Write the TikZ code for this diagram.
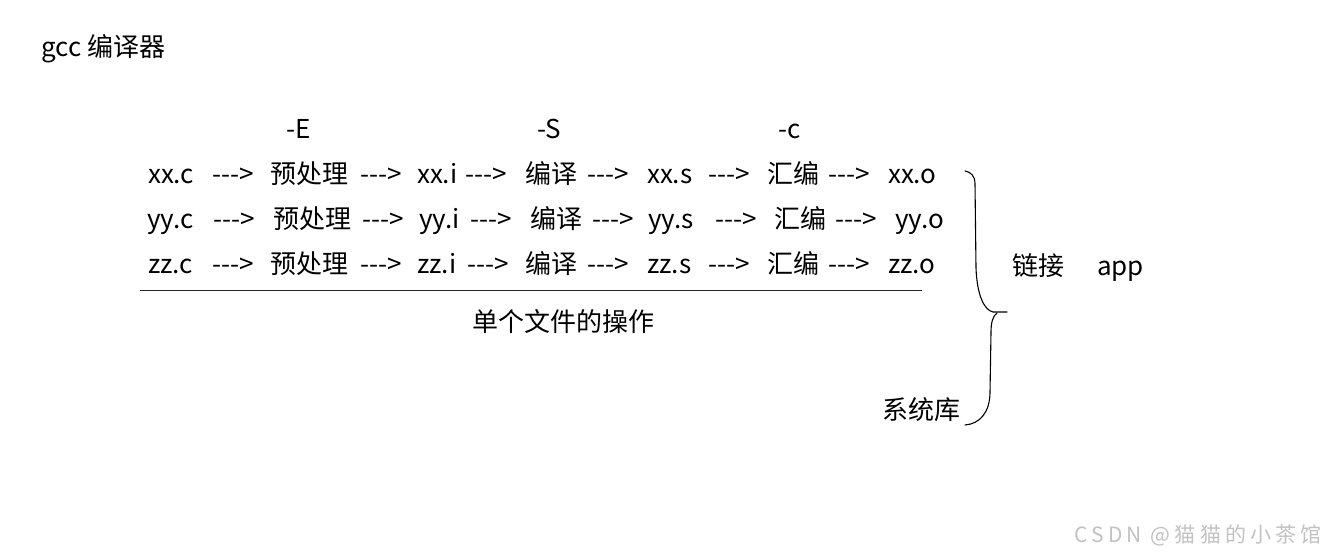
\documentclass[tikz,border=0pt]{standalone}
\usepackage{fontspec}
\newfontfamily\yh{Noto Sans CJK SC}
\newfontfamily\yhwide[LetterSpace=20]{Noto Sans CJK SC}
\tikzset{
  t/.style={inner sep=0pt,anchor=base west,font=\yh\fontsize{26}{30}\selectfont,text=black},
  brace/.style={draw=black,line width=1.1pt,line cap=round,line join=round},
  wm/.style={inner sep=0pt,anchor=base east,font=\yhwide\fontsize{21}{24}\selectfont,text=black!24}
}
\begin{document}
\begin{tikzpicture}[x=1pt,y=-1pt]
\useasboundingbox (0,0) rectangle (1327,556);
\fill[white] (0,0) rectangle (1327,556);
\node[t] (title) at (41,57) {gcc 编译器};
\node[t] (optE) at (286,139) {-E};
\node[t] (optS) at (537,139) {-S};
\node[t] (optc) at (778,139) {-c};
\foreach \x/\s [count=\i] in {148/xx.c,212/{--->},270/预处理,360/{--->},417/xx.i,465/{--->},525/编译,587/{--->},647/xx.s,708/{--->},767/汇编,828/{--->},888/xx.o}
  \node[t] (ra\i) at (\x,183) {\s};
\foreach \x/\s [count=\i] in {147/yy.c,213/{--->},273/预处理,362/{--->},419/yy.i,470/{--->},530/编译,592/{--->},648/yy.s,715/{--->},774/汇编,835/{--->},895/yy.o}
  \node[t] (rb\i) at (\x,228) {\s};
\foreach \x/\s [count=\i] in {148/zz.c,212/{--->},270/预处理,360/{--->},417/zz.i,467/{--->},525/编译,587/{--->},647/zz.s,708/{--->},767/汇编,828/{--->},888/zz.o}
  \node[t] (rc\i) at (\x,273) {\s};
\coordinate (ls) at (140,290);
\coordinate (le) at (922,290);
\draw[black!85,line width=1pt] (ls) -- (le);
\node[t] (single) at (472,331) {单个文件的操作};
\coordinate (b1) at (965,171);
\coordinate (b2) at (975,184);
\coordinate (b3) at (976,268);
\coordinate (b4) at (993,312);
\coordinate (b5) at (1007,312);
\draw[brace] (b1) .. controls (971,172) and (975,176) .. (b2) -- (b3) .. controls (977,295) and (984,310) .. (b4) -- (b5);
\coordinate (c1) at (997,313);
\coordinate (c2) at (991,332);
\coordinate (c3) at (990,392);
\coordinate (c4) at (965,425);
\draw[brace] (c1) .. controls (993,316) and (991,322) .. (c2) -- (c3) .. controls (990,412) and (980,424) .. (c4);
\node[t] (link) at (1012,275) {链接};
\node[t] (app) at (1097,275) {app};
\node[t] (syslib) at (882,419) {系统库};
\node[wm] (mark) at (1322,542) {CSDN @猫猫的小茶馆};
\end{tikzpicture}
\end{document}
